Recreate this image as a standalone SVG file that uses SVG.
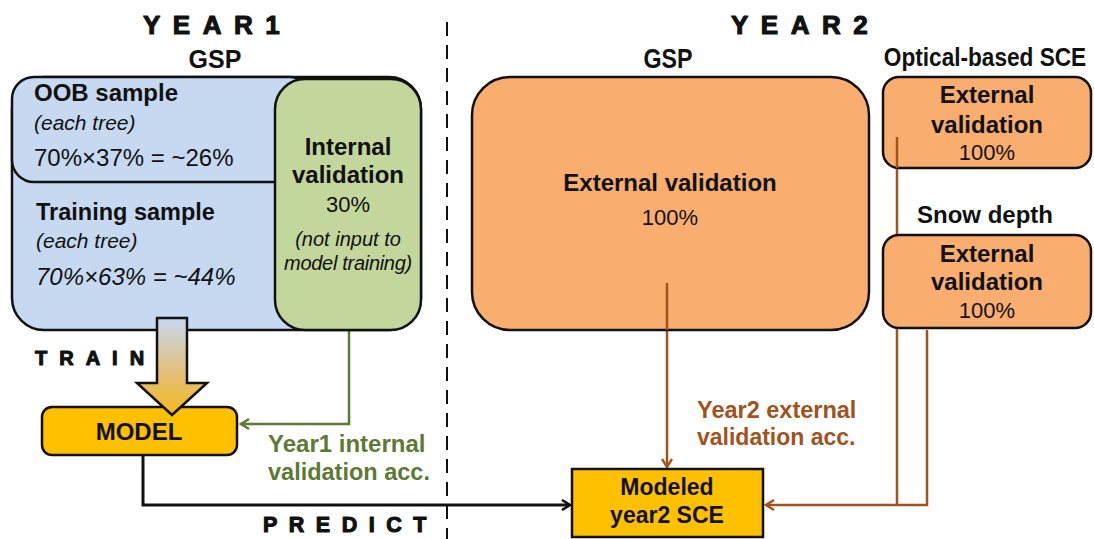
<svg xmlns="http://www.w3.org/2000/svg" width="1094" height="539" viewBox="0 0 1094 539">
  <defs>
    <style>
      .t { font-family: "Liberation Sans", Arial, sans-serif; fill: #111; }
      .b { font-weight: bold; }
      .i { font-style: italic; }
      .c { text-anchor: middle; }
      .head { font-family: "Liberation Sans", Arial, sans-serif; font-weight: bold; font-size: 26px; fill: #111; stroke: #111; stroke-width: 1.1; stroke-linejoin: round; }
      .box { stroke: #111; stroke-width: 2.5; }
      .blue { fill: #c6d9f1; }
      .green { fill: #c3d69b; }
      .orange { fill: #f9ae6f; }
      .gold { fill: #ffc000; }
      .g-txt { fill: #5d7a35; }
      .o-txt { fill: #a2531d; }
    </style>
    <linearGradient id="trainGrad" x1="0" y1="0" x2="0" y2="1">
      <stop offset="0" stop-color="#c6d9f1"/>
      <stop offset="0.55" stop-color="#e2c07a"/>
      <stop offset="1" stop-color="#f4b81c"/>
    </linearGradient>
    <marker id="arrBlack" viewBox="0 0 12 12" refX="10" refY="6" markerWidth="12" markerHeight="12" markerUnits="userSpaceOnUse" orient="auto">
      <path d="M2,1 L10,6 L2,11" fill="none" stroke="#111" stroke-width="2.6"/>
    </marker>
    <marker id="arrGreen" viewBox="0 0 12 12" refX="10" refY="6" markerWidth="12" markerHeight="12" markerUnits="userSpaceOnUse" orient="auto">
      <path d="M2,1 L10,6 L2,11" fill="none" stroke="#5d7a35" stroke-width="2.4"/>
    </marker>
    <marker id="arrBrown" viewBox="0 0 12 12" refX="10" refY="6" markerWidth="12" markerHeight="12" markerUnits="userSpaceOnUse" orient="auto">
      <path d="M2,1 L10,6 L2,11" fill="none" stroke="#a2531d" stroke-width="2.4"/>
    </marker>
  </defs>

  <rect width="1094" height="539" fill="#ffffff"/>

  <!-- section headers -->
  <text class="head" x="143" y="34" letter-spacing="12.5">YEAR1</text>
  <text class="head" x="731" y="34" letter-spacing="12.5">YEAR2</text>
  <text class="t b c" x="215" y="68" font-size="25">GSP</text>
  <text class="t b c" transform="translate(668,68) scale(0.86,1)" font-size="27">GSP</text>
  <text class="t b c" transform="translate(985,66) scale(0.87,1)" font-size="26">Optical-based SCE</text>
  <text class="t b c" x="985" y="223" font-size="24">Snow depth</text>

  <!-- year divider -->
  <line x1="447" y1="22" x2="447" y2="539" stroke="#111" stroke-width="2" stroke-dasharray="14 9"/>

  <!-- connectors (drawn under the boxes) -->
  <g id="connectors" fill="none" stroke-width="2.5">
    <path d="M349,293 V424 H241" stroke="#5d7a35" marker-end="url(#arrGreen)"/>
    <path d="M667,283 V467" stroke="#a2531d" marker-end="url(#arrBrown)"/>
    <path d="M897,137 V505 M927,330 V505 H766" stroke="#a2531d" marker-end="url(#arrBrown)"/>
    <path d="M143,455 V505 H570" stroke="#111" stroke-width="3" marker-end="url(#arrBlack)"/>
  </g>

  <!-- year 1 GSP split -->
  <g id="gsp-year1">
    <rect class="box blue" x="12" y="77" width="409" height="253" rx="32"/>
    <rect class="box blue" x="12" y="77" width="300" height="105" rx="22"/>
    <text class="t b" x="34" y="101" font-size="24">OOB sample</text>
    <text class="t i" x="34" y="130" font-size="21">(each tree)</text>
    <text class="t" x="34" y="166" font-size="24">70%×37% = ~26%</text>
    <text class="t b" x="36" y="220" font-size="23.5">Training sample</text>
    <text class="t i" x="36" y="248" font-size="21">(each tree)</text>
    <text class="t i" x="36" y="285" font-size="24">70%×63% = ~44%</text>
  </g>

  <g id="internal-validation">
    <rect class="box green" x="275" y="79" width="146" height="251" rx="30"/>
    <text class="t b c" x="348" y="155" font-size="24">Internal</text>
    <text class="t b c" x="348" y="183" font-size="24">validation</text>
    <text class="t c" x="348" y="212" font-size="22">30%</text>
    <text class="t i c" x="348" y="246" font-size="20">(not input to</text>
    <text class="t i c" x="348" y="270" font-size="20" letter-spacing="-0.3">model training)</text>
  </g>

  <g id="model">
    <rect class="box gold" x="42" y="407" width="195" height="48" rx="10"/>
    <text class="t b c" x="139" y="440" font-size="24">MODEL</text>
  </g>

  <g id="train-arrow">
    <polygon points="157,318 187,318 187,383 207,383 172,415 137,383 157,383" fill="url(#trainGrad)" stroke="#111" stroke-width="2.5" stroke-linejoin="miter"/>
  </g>
  <text class="head" x="35" y="365" letter-spacing="12" style="font-size:20px">TRAIN</text>
  <text class="head" x="263" y="532" letter-spacing="11.5" style="font-size:21.5px">PREDICT</text>

  <!-- accuracy labels -->
  <text class="t b g-txt" x="268" y="452" font-size="24">Year1 internal</text>
  <text class="t b g-txt" x="268" y="480" font-size="23.5">validation acc.</text>
  <text class="t b o-txt" x="697" y="418" font-size="23.5">Year2 external</text>
  <text class="t b o-txt" x="697" y="445" font-size="23">validation acc.</text>

  <!-- year 2 sources -->
  <g id="gsp-year2">
    <rect class="box orange" x="472" y="77" width="397" height="253" rx="38"/>
    <text class="t b c" x="670" y="191" font-size="24">External validation</text>
    <text class="t c" x="670" y="225" font-size="22">100%</text>
  </g>
  <path d="M667,283 V330" stroke="#a2531d" stroke-width="2.5" fill="none"/>

  <g id="optical-sce">
    <rect class="box orange" x="883" y="77" width="208" height="91" rx="16"/>
    <text class="t b c" x="987" y="103" font-size="24">External</text>
    <text class="t b c" x="987" y="133" font-size="24">validation</text>
    <text class="t c" x="987" y="160" font-size="22">100%</text>
  </g>
  <path d="M897,137 V168" stroke="#a2531d" stroke-width="2.5" fill="none"/>

  <g id="snow-depth">
    <rect class="box orange" x="883" y="235" width="208" height="93" rx="16"/>
    <text class="t b c" x="987" y="262" font-size="24">External</text>
    <text class="t b c" x="987" y="290" font-size="24">validation</text>
    <text class="t c" x="987" y="318" font-size="22">100%</text>
  </g>

  <g id="modeled-sce">
    <rect class="box gold" x="572" y="469" width="191" height="68"/>
    <text class="t b c" x="667" y="495" font-size="23">Modeled</text>
    <text class="t b c" x="667" y="523" font-size="23">year2 SCE</text>
  </g>
</svg>
